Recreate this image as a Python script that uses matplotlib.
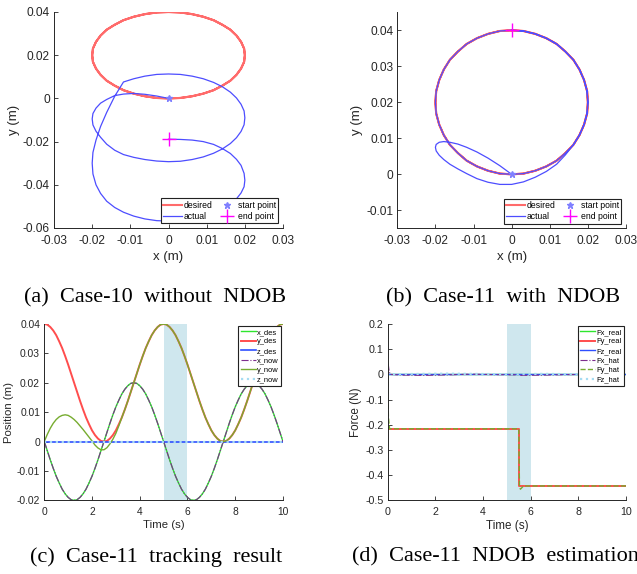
import numpy as np
import matplotlib.pyplot as plt

plt.rcParams['font.family'] = ['Liberation Sans', 'DejaVu Sans']

# time samples (s), read every 0.125 s
t = [0, 0.125, 0.25, 0.375, 0.5, 0.625, 0.75, 0.875, 1.0, 1.125,
     1.25, 1.375, 1.5, 1.625, 1.75, 1.875, 2.0, 2.125, 2.25, 2.375,
     2.5, 2.625, 2.75, 2.875, 3.0, 3.125, 3.25, 3.375, 3.5, 3.625,
     3.75, 3.875, 4.0, 4.125, 4.25, 4.375, 4.5, 4.625, 4.75, 4.875,
     5.0, 5.125, 5.25, 5.375, 5.5, 5.625, 5.75, 5.875, 6.0, 6.125,
     6.25, 6.375, 6.5, 6.625, 6.75, 6.875, 7.0, 7.125, 7.25, 7.375,
     7.5, 7.625, 7.75, 7.875, 8.0, 8.125, 8.25, 8.375, 8.5, 8.625,
     8.75, 8.875, 9.0, 9.125, 9.25, 9.375, 9.5, 9.625, 9.75, 9.875, 10.0]

# desired trajectory, one 5 s lap (the second lap repeats it)
lap_x = [0, -0.0031, -0.0062, -0.0091, -0.0118, -0.0141, -0.0162, -0.0178, -0.0190, -0.0198,
         -0.0200, -0.0198, -0.0190, -0.0178, -0.0162, -0.0141, -0.0118, -0.0091, -0.0062, -0.0031,
         0, 0.0031, 0.0062, 0.0091, 0.0118, 0.0141, 0.0162, 0.0178, 0.0190, 0.0198,
         0.0200, 0.0198, 0.0190, 0.0178, 0.0162, 0.0141, 0.0118, 0.0091, 0.0062, 0.0031, 0]
lap_y = [0.0400, 0.0398, 0.0390, 0.0378, 0.0362, 0.0341, 0.0318, 0.0291, 0.0262, 0.0231,
         0.0200, 0.0169, 0.0138, 0.0109, 0.0082, 0.0059, 0.0038, 0.0022, 0.0010, 0.0002,
         0, 0.0002, 0.0010, 0.0022, 0.0038, 0.0059, 0.0082, 0.0109, 0.0138, 0.0169,
         0.0200, 0.0231, 0.0262, 0.0291, 0.0318, 0.0341, 0.0362, 0.0378, 0.0390, 0.0398, 0.0400]
x_des = lap_x + lap_x[1:]
y_des = lap_y + lap_y[1:]

# Case-11 (with NDOB): x sits on the reference, y converges by ~3.25 s
x_now = list(x_des)
y_now_start = [0, 0.0024, 0.0045, 0.0062, 0.0075, 0.0084, 0.0089, 0.0091, 0.0089, 0.0083,
               0.0075, 0.0065, 0.0053, 0.0041, 0.0028, 0.0015, 0.0002, -0.0012, -0.0022, -0.0028,
               -0.0028, -0.0021, -0.0008, 0.0008, 0.0028, 0.0054]
y_now = y_now_start + y_des[26:]

# Case-10 (without NDOB) actual y, same x
y_case10 = [0, 0.0011, 0.0019, 0.0023, 0.0020, 0.0013, -0.0005, -0.0022, -0.0045, -0.0070,
            -0.0095, -0.0123, -0.0152, -0.0180, -0.0212, -0.0240, -0.0260, -0.0273, -0.0283, -0.0290,
            -0.0293, -0.0291, -0.0283, -0.0271, -0.0254, -0.0234, -0.0209, -0.0182, -0.0153, -0.0122,
            -0.0090, -0.0058, -0.0027, 0.0002, 0.0029, 0.0054, 0.0074, 0.0091, 0.0103, 0.0111,
            0.0113, 0.0111, 0.0103, 0.0091, 0.0076, 0.0010, -0.0065, -0.0130, -0.0193, -0.0250,
            -0.0300, -0.0350, -0.0400, -0.0440, -0.0476, -0.0505, -0.0527, -0.0545, -0.0558, -0.0566,
            -0.0568, -0.0567, -0.0560, -0.0548, -0.0533, -0.0513, -0.0491, -0.0465, -0.0438, -0.0409,
            -0.0379, -0.0347, -0.0310, -0.0282, -0.0255, -0.0232, -0.0213, -0.0200, -0.0193, -0.0190,
            -0.0189]

t_ends = [0, 10]
z_des = [0, 0]
z_now = [0, 0]

# forces (N)
t_step = [0, 5.5, 5.5, 10]
fy_real = [-0.215, -0.215, -0.442, -0.442]
fx_real = [0, 0]
fz_real = [0, 0]
t_hat = [0, 0.02, 0.05, 0.1, 0.6, 1.5, 2.5, 3.5, 4.5, 5.5, 5.6, 6.5, 7.5, 8.5, 10]
fx_hat = [0, 0.045, 0.02, 0.0, -0.003, -0.004, -0.002, 0.001, -0.001, -0.002, -0.004, -0.003, -0.001, 0.0, 0.0]
fz_hat = [0, 0.003, 0.001, 0.0, 0.001, 0.002, 0.003, 0.002, 0.001, 0.0, 0.001, 0.002, 0.001, 0.0, 0.0]
t_fyhat = [0, 0.03, 0.08, 5.5, 5.53, 5.57, 5.7, 10]
fy_hat = [0, -0.17, -0.216, -0.216, -0.44, -0.456, -0.443, -0.443]

xy_ticks = [-0.03, -0.02, -0.01, 0, 0.01, 0.02, 0.03]
xy_ticklabels = ['-0.03', '-0.02', '-0.01', '0', '0.01', '0.02', '0.03']
ya_ticks = [-0.06, -0.04, -0.02, 0, 0.02, 0.04]
ya_ticklabels = ['-0.06', '-0.04', '-0.02', '0', '0.02', '0.04']
yb_ticks = [-0.01, 0, 0.01, 0.02, 0.03, 0.04]
yb_ticklabels = ['-0.01', '0', '0.01', '0.02', '0.03', '0.04']
time_ticks = [0, 2, 4, 6, 8, 10]
time_ticklabels = ['0', '2', '4', '6', '8', '10']
pos_ticks = [-0.02, -0.01, 0, 0.01, 0.02, 0.03, 0.04]
pos_ticklabels = ['-0.02', '-0.01', '0', '0.01', '0.02', '0.03', '0.04']
force_ticks = [-0.5, -0.4, -0.3, -0.2, -0.1, 0, 0.1, 0.2]
force_ticklabels = ['-0.5', '-0.4', '-0.3', '-0.2', '-0.1', '0', '0.1', '0.2']

captions = ['(a)  Case-10  without  NDOB', '(b)  Case-11  with  NDOB',
            '(c)  Case-11  tracking  result', '(d)  Case-11  NDOB  estimation']

AXC = '#262626'


def styleAx(ax, tsize):
    for s in ['top', 'right']:
        ax.spines[s].set_visible(False)
    for s in ['left', 'bottom']:
        ax.spines[s].set_color(AXC)
        ax.spines[s].set_linewidth(0.7)
    ax.tick_params(direction='in', length=3, width=0.6, colors=AXC, labelsize=tsize, pad=3)
    ax.tick_params(axis='x', pad=5)


def boxLegend(ax, **kw):
    leg = ax.legend(frameon=True, fancybox=False, framealpha=1, **kw)
    leg.get_frame().set_edgecolor('#222222')
    leg.get_frame().set_linewidth(0.8)
    return leg


def xyPanel(ax, ys, end_pt, ylim, yt, ytl):
    ax.plot(x_des, y_des, color='#FF6B6B', lw=1.5, label='desired')
    ax.plot(x_des, ys, color='#4D4DFF', lw=0.9, label='actual')
    ax.plot([0], [0], '*', color='#8080FF', ms=5, lw=0, label='start point')
    ax.plot([end_pt[0]], [end_pt[1]], '+', color='#FF00FF', ms=10, mew=1.0, lw=0, label='end point')
    ax.set_xlim(-0.03, 0.03)
    ax.set_ylim(*ylim)
    ax.set_xticks(xy_ticks)
    ax.set_xticklabels(xy_ticklabels)
    ax.set_yticks(yt)
    ax.set_yticklabels(ytl)
    ax.set_xlabel('x (m)', fontsize=9.5, color=AXC, labelpad=3)
    ax.set_ylabel('y (m)', fontsize=9.5, color=AXC, labelpad=2)
    styleAx(ax, 8.6)
    boxLegend(ax, loc='lower right', ncol=2, fontsize=6.2, borderaxespad=0.55, borderpad=0.25,
              labelspacing=0.3, handlelength=2.1, handletextpad=0.25, columnspacing=0.6)


fig = plt.figure(figsize=(6.37, 5.74), dpi=100)

ax1 = fig.add_axes([0.0848, 0.6028, 0.3595, 0.3763])
xyPanel(ax1, y_case10, (0, -0.0189), (-0.06, 0.04), ya_ticks, ya_ticklabels)

ax2 = fig.add_axes([0.6237, 0.6022, 0.3590, 0.3764])
xyPanel(ax2, y_now, (0, 0.04), (-0.015, 0.045), yb_ticks, yb_ticklabels)

# (c) tracking result
ax3 = fig.add_axes([0.0695, 0.1284, 0.3747, 0.3071])
ax3.axvspan(5, 6, color='#CFE7EE', lw=0, zorder=0.5)
ax3.plot(t, x_des, color='#2EE62E', lw=1.0, label='x_des')
ax3.plot(t, y_des, color='#FF4D4D', lw=1.4, label='y_des')
ax3.plot(t_ends, z_des, color='#2F4FFF', lw=1.2, label='z_des')
ax3.plot(t, x_now, color='#7E2F8E', lw=0.8, ls='-.', label='x_now')
ax3.plot(t, y_now, color='#77AC30', lw=1.0, label='y_now')
ax3.plot(t_ends, z_now, color='#A6DCF2', lw=1.6, ls=':', label='z_now')
ax3.set_xlim(0, 10)
ax3.set_ylim(-0.02, 0.04)
ax3.set_xticks(time_ticks)
ax3.set_xticklabels(time_ticklabels)
ax3.set_yticks(pos_ticks)
ax3.set_yticklabels(pos_ticklabels)
ax3.set_xlabel('Time (s)', fontsize=8.2, color=AXC, labelpad=2)
ax3.set_ylabel('Position (m)', fontsize=8.2, color=AXC, labelpad=2)
styleAx(ax3, 7.4)

# (d) NDOB estimation
ax4 = fig.add_axes([0.6086, 0.1284, 0.3741, 0.3071])
ax4.axvspan(5, 6, color='#CFE7EE', lw=0, zorder=0.5)
ax4.plot(t_ends, fx_real, color='#2EE62E', lw=1.0, label='Fx_real')
ax4.plot(t_step, fy_real, color='#FF4D4D', lw=1.4, label='Fy_real')
ax4.plot(t_ends, fz_real, color='#2F4FFF', lw=1.0, label='Fz_real')
ax4.plot(t_hat, fx_hat, color='#7E2F8E', lw=0.8, ls='-.', label='Fx_hat')
ax4.plot(t_fyhat, fy_hat, color='#77AC30', lw=1.0, ls='--', label='Fy_hat')
ax4.plot(t_hat, fz_hat, color='#A6DCF2', lw=1.6, ls=':', label='Fz_hat')
ax4.set_xlim(0, 10)
ax4.set_ylim(-0.5, 0.2)
ax4.set_xticks(time_ticks)
ax4.set_xticklabels(time_ticklabels)
ax4.set_yticks(force_ticks)
ax4.set_yticklabels(force_ticklabels)
ax4.set_xlabel('Time (s)', fontsize=8.4, color=AXC, labelpad=2)
ax4.set_ylabel('Force (N)', fontsize=8.4, color=AXC, labelpad=2)
styleAx(ax4, 7.7)

for ax in [ax3, ax4]:
    boxLegend(ax, loc='upper right', fontsize=5.4, borderaxespad=0.3, borderpad=0.3,
              labelspacing=0.3, handlelength=2.0, handletextpad=0.15)

serif = ['Liberation Serif', 'DejaVu Serif']
fig.text(0.2433, 0.4810, captions[0], ha='center', va='center', family=serif, fontsize=16)
fig.text(0.7904, 0.4810, captions[1], ha='center', va='center', family=serif, fontsize=16)
fig.text(0.245, 0.0290, captions[2], ha='center', va='center', family=serif, fontsize=16)
fig.text(0.5526, 0.0290, captions[3], ha='left', va='center', family=serif, fontsize=16)

fig.savefig('out.png', dpi=100)
